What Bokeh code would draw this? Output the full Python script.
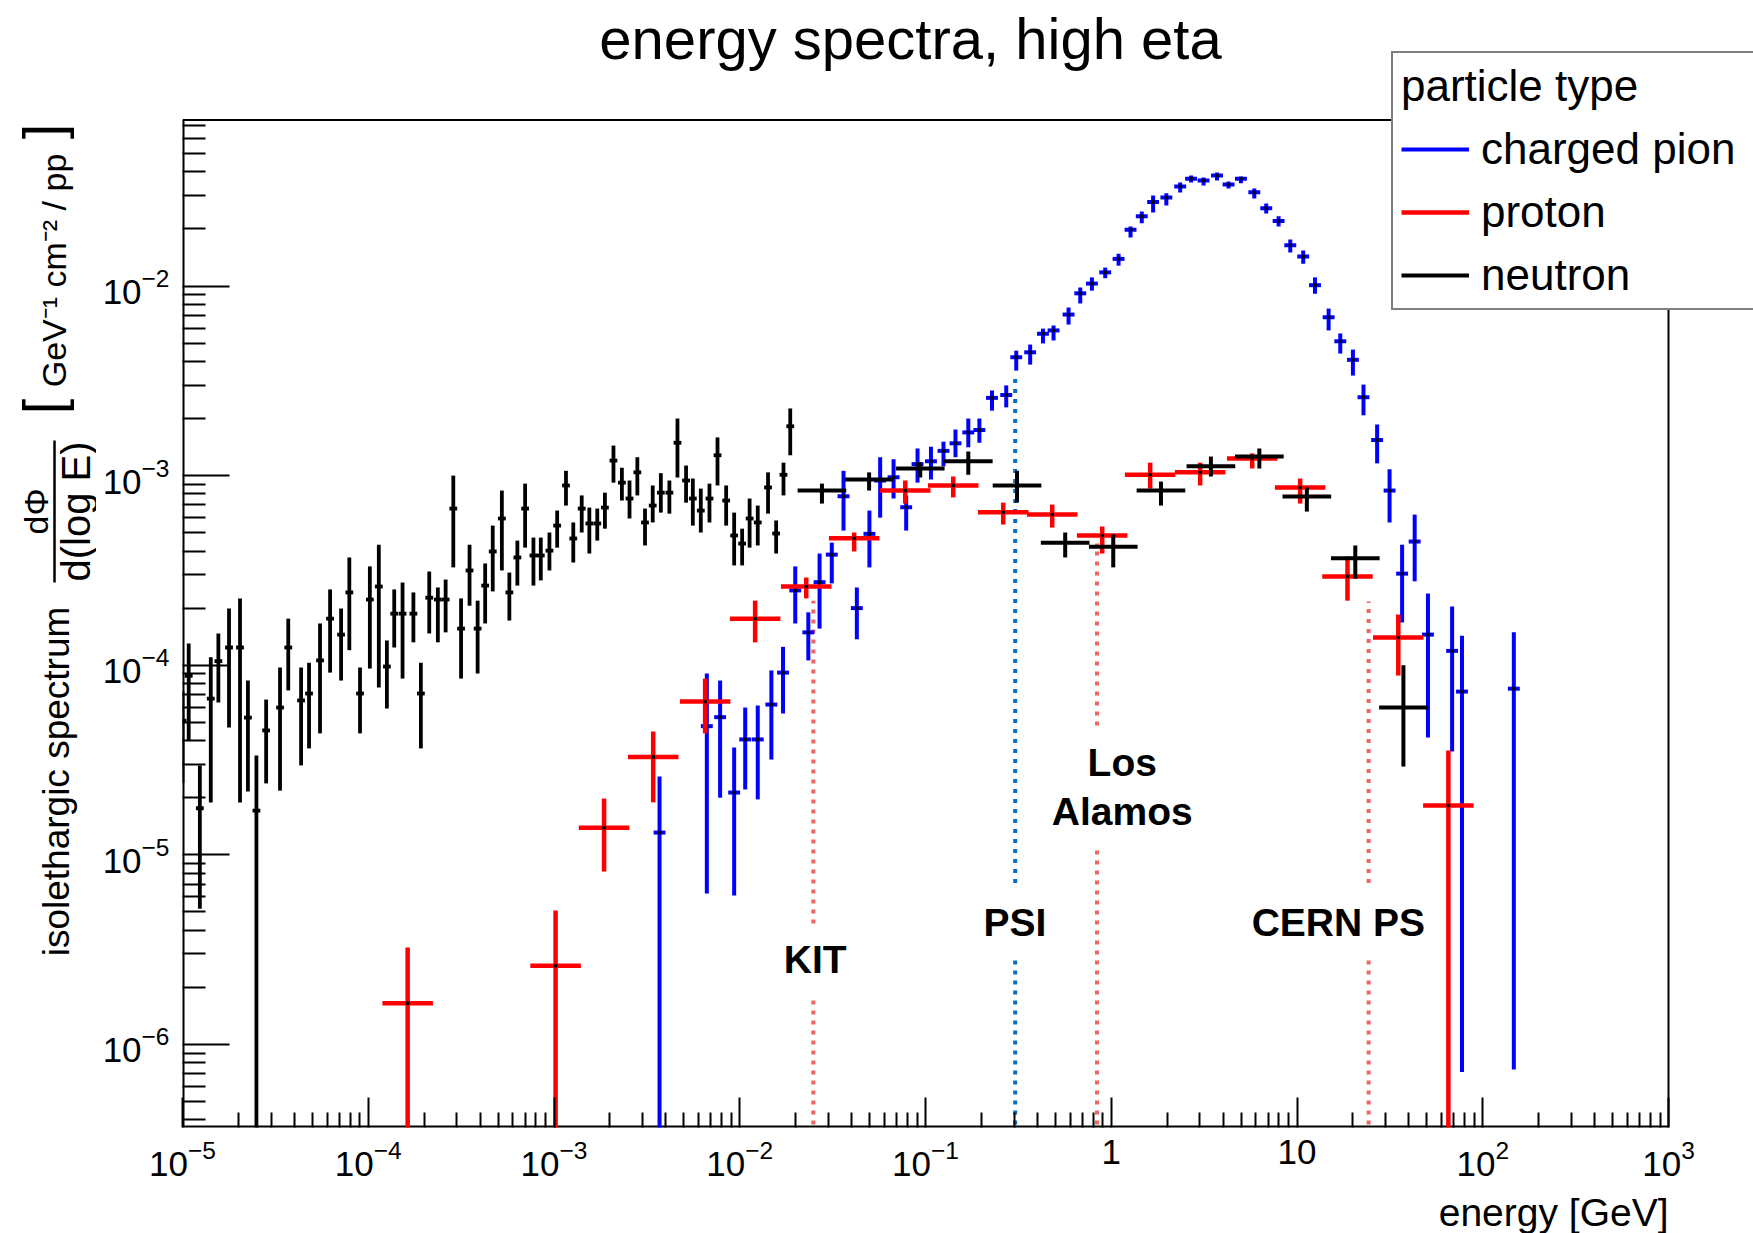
import numpy as np
from bokeh.plotting import figure
from bokeh.layouts import row, column
from bokeh.models import Range1d, FixedTicker, Label, Legend, LegendItem, ColumnDataSource
from bokeh.embed import file_html
from bokeh.resources import INLINE

FONT = "Liberation Sans"

# ---------------- data ----------------
# neutron, fine binning (low energy)
neutron_fine_e = [1.0e-5, 1.08e-5, 1.24e-5, 1.42e-5, 1.56e-5, 1.78e-5, 2.04e-5, 2.25e-5, 2.50e-5, 2.82e-5,
                  3.35e-5, 3.71e-5, 4.35e-5, 4.80e-5, 5.50e-5, 6.23e-5, 7.14e-5, 7.91e-5, 9.03e-5, 1.02e-4,
                  1.14e-4, 1.26e-4, 1.38e-4, 1.53e-4, 1.75e-4, 1.92e-4, 2.13e-4, 2.37e-4, 2.61e-4, 2.87e-4,
                  3.16e-4, 3.51e-4, 3.88e-4, 4.26e-4, 4.68e-4, 5.24e-4, 5.75e-4, 6.35e-4, 6.99e-4, 7.75e-4,
                  8.49e-4, 9.45e-4, 1.04e-3, 1.16e-3, 1.27e-3, 1.41e-3, 1.55e-3, 1.71e-3, 1.88e-3, 2.09e-3,
                  2.32e-3, 2.55e-3, 2.81e-3, 3.09e-3, 3.40e-3, 3.76e-3, 4.18e-3, 4.62e-3, 5.14e-3, 5.59e-3,
                  6.17e-3, 6.87e-3, 7.59e-3, 8.45e-3, 9.33e-3, 1.03e-2, 1.13e-2, 1.25e-2, 1.42e-2, 1.57e-2,
                  1.72e-2, 1.87e-2]
neutron_fine_y = [5.1e-5, 8.8e-5, 1.76e-5, 6.67e-5, 1.05e-4, 1.24e-4, 1.24e-4, 5.29e-5, 1.71e-5, 4.53e-5,
                  5.98e-5, 1.24e-4, 6.52e-5, 7.09e-5, 1.06e-4, 1.76e-4, 1.45e-4, 2.42e-4, 7.09e-5, 2.22e-4,
                  2.60e-4, 9.84e-5, 1.87e-4, 1.87e-4, 1.87e-4, 7.09e-5, 2.27e-4, 2.22e-4, 2.22e-4, 6.70e-4,
                  1.56e-4, 3.16e-4, 1.56e-4, 2.63e-4, 3.98e-4, 5.94e-4, 2.42e-4, 3.70e-4, 6.70e-4, 3.79e-4,
                  3.79e-4, 4.02e-4, 5.45e-4, 8.87e-4, 4.66e-4, 6.70e-4, 5.59e-4, 5.59e-4, 6.78e-4, 1.20e-3,
                  9.18e-4, 7.57e-4, 1.04e-3, 5.66e-4, 6.95e-4, 8.13e-4, 8.13e-4, 1.49e-3, 9.42e-4, 7.57e-4,
                  6.54e-4, 7.57e-4, 1.28e-3, 7.39e-4, 4.83e-4, 4.38e-4, 5.94e-4, 5.66e-4, 8.66e-4, 4.95e-4,
                  1.01e-3, 1.82e-3]
neutron_fine_hi = [7.3e-5, 1.30e-4, 2.96e-5, 1.10e-4, 1.47e-4, 1.99e-4, 2.25e-4, 8.30e-5, 3.34e-5, 6.59e-5,
                   9.72e-5, 1.76e-4, 9.72e-5, 1.03e-4, 1.66e-4, 2.51e-4, 1.99e-4, 3.70e-4, 9.72e-5, 3.32e-4,
                   4.32e-4, 1.35e-4, 2.51e-4, 2.73e-4, 2.42e-4, 1.03e-4, 3.12e-4, 2.57e-4, 2.83e-4, 1.0e-3,
                   2.25e-4, 4.32e-4, 2.19e-4, 3.44e-4, 5.45e-4, 8.34e-4, 3.08e-4, 4.54e-4, 9.07e-4, 4.71e-4,
                   4.71e-4, 5.01e-4, 6.54e-4, 1.06e-3, 5.66e-4, 7.86e-4, 6.78e-4, 6.70e-4, 8.13e-4, 1.44e-3,
                   1.10e-3, 9.42e-4, 1.25e-3, 6.70e-4, 8.87e-4, 1.03e-3, 9.42e-4, 2.0e-3, 1.13e-3, 9.65e-4,
                   8.54e-4, 9.07e-4, 1.59e-3, 8.87e-4, 6.38e-4, 5.25e-4, 7.57e-4, 6.95e-4, 1.04e-3, 5.80e-4,
                   1.17e-3, 2.26e-3]
neutron_fine_lo = [2.4e-5, 4.0e-5, 5.2e-6, 1.89e-5, 6.35e-5, 4.69e-5, 1.89e-5, 2.16e-5, 0.0, 2.38e-5,
                   2.18e-5, 7.36e-5, 2.96e-5, 3.64e-5, 4.37e-5, 9.14e-5, 8.30e-5, 1.20e-4, 4.37e-5, 9.6e-5,
                   7.62e-5, 5.91e-5, 1.24e-4, 8.5e-5, 1.32e-4, 3.64e-5, 1.47e-4, 1.32e-4, 1.49e-4, 3.28e-4,
                   8.5e-5, 2.06e-4, 9.04e-5, 1.66e-4, 2.45e-4, 3.16e-4, 1.72e-4, 2.63e-4, 4.17e-4, 2.63e-4,
                   2.80e-4, 3.16e-4, 4.17e-4, 6.95e-4, 3.48e-4, 5.01e-4, 3.88e-4, 4.54e-4, 5.25e-4, 9.18e-4,
                   7.39e-4, 5.94e-4, 7.86e-4, 4.28e-4, 5.66e-4, 6.38e-4, 6.30e-4, 9.77e-4, 7.20e-4, 5.45e-4,
                   5.01e-4, 5.66e-4, 8.87e-4, 5.45e-4, 3.36e-4, 3.36e-4, 4.17e-4, 4.28e-4, 6.30e-4, 3.88e-4,
                   7.86e-4, 1.28e-3]

# neutron, coarse binning
neutron_e = [0.0277, 0.0497, 0.0937, 0.170, 0.311, 0.565, 1.025, 1.852, 3.44, 6.27, 11.3, 20.6, 37.4]
neutron_y = [8.34e-4, 9.54e-4, 1.09e-3, 1.19e-3, 8.87e-4, 4.43e-4, 4.22e-4, 8.34e-4, 1.12e-3, 1.26e-3,
             7.76e-4, 3.66e-4, 5.98e-5]
neutron_hi = [9.07e-4, 1.04e-3, 1.17e-3, 1.34e-3, 1.06e-3, 5.01e-4, 4.89e-4, 9.30e-4, 1.26e-3, 1.39e-3,
              8.66e-4, 4.28e-4, 1.0e-4]
neutron_lo = [7.12e-4, 8.34e-4, 9.77e-4, 1.01e-3, 7.20e-4, 3.70e-4, 3.28e-4, 6.95e-4, 9.89e-4, 1.09e-3,
              6.46e-4, 2.86e-4, 2.92e-5]

# proton
proton_e = [1.63e-4, 1.02e-3, 1.86e-3, 3.42e-3, 6.51e-3, 1.21e-2, 2.28e-2, 4.13e-2, 7.78e-2, 0.141,
            0.262, 0.481, 0.894, 1.62, 3.01, 5.74, 10.4, 18.7, 35.1, 65.3]
proton_y = [1.65e-6, 2.60e-6, 1.39e-5, 3.28e-5, 6.43e-5, 1.76e-4, 2.60e-4, 4.67e-4, 8.34e-4, 8.87e-4,
            6.41e-4, 6.23e-4, 4.83e-4, 1.01e-3, 1.04e-3, 1.23e-3, 8.66e-4, 2.94e-4, 1.40e-4, 1.82e-5]
proton_hi = [3.24e-6, 5.08e-6, 1.98e-5, 4.47e-5, 8.5e-5, 2.19e-4, 2.90e-4, 5.01e-4, 9.42e-4, 9.89e-4,
             7.20e-4, 7.03e-4, 5.39e-4, 1.17e-3, 1.17e-3, 1.31e-3, 9.65e-4, 3.74e-4, 1.85e-4, 3.55e-5]
proton_lo = [0.0, 0.0, 8.16e-6, 1.89e-5, 4.37e-5, 1.32e-4, 2.25e-4, 3.98e-4, 7.12e-4, 7.67e-4,
             5.52e-4, 5.32e-4, 3.88e-4, 8.54e-4, 8.87e-4, 1.09e-3, 7.12e-4, 2.19e-4, 8.82e-5, 0.0]

# charged pion
pion_e = [3.70e-3, 6.65e-3, 7.84e-3, 9.33e-3, 1.07e-2, 1.25e-2, 1.48e-2, 1.71e-2, 1.99e-2, 2.34e-2,
          2.69e-2, 3.13e-2, 3.62e-2, 4.27e-2, 4.99e-2, 5.70e-2, 6.73e-2, 7.87e-2, 9.06e-2, 0.107,
          0.125, 0.145, 0.170, 0.195, 0.228, 0.272, 0.308, 0.366, 0.429, 0.489,
          0.589, 0.681, 0.787, 0.928, 1.095, 1.27, 1.46, 1.68, 1.98, 2.35,
          2.69, 3.14, 3.71, 4.28, 4.99, 5.89, 6.83, 7.96, 9.20, 10.8,
          12.5, 14.8, 17.1, 20.0, 22.8, 27.0, 31.5, 36.8, 43.0, 50.7,
          68.4, 77.3, 147.0]
pion_y = [1.31e-5, 4.77e-5, 5.32e-5, 2.13e-5, 4.06e-5, 4.06e-5, 6.2e-5, 9.14e-5, 2.48e-4, 1.49e-4,
          2.74e-4, 3.83e-4, 7.78e-4, 2.0e-4, 4.93e-4, 9.42e-4, 9.8e-4, 6.81e-4, 1.15e-3, 1.19e-3,
          1.35e-3, 1.48e-3, 1.69e-3, 1.74e-3, 2.57e-3, 2.66e-3, 4.21e-3, 4.47e-3, 5.6e-3, 5.83e-3,
          7.07e-3, 9.15e-3, 1.03e-2, 1.18e-2, 1.39e-2, 1.98e-2, 2.33e-2, 2.77e-2, 2.93e-2, 3.35e-2,
          3.68e-2, 3.6e-2, 3.83e-2, 3.43e-2, 3.68e-2, 3.12e-2, 2.57e-2, 2.20e-2, 1.64e-2, 1.43e-2,
          1.01e-2, 6.84e-3, 5.11e-3, 4.08e-3, 2.59e-3, 1.54e-3, 8.34e-4, 3.04e-4, 4.49e-4, 1.45e-4,
          1.19e-4, 7.26e-5, 7.52e-5]
pion_hi = [2.59e-5, 9.04e-5, 8.3e-5, 3.68e-5, 5.98e-5, 6.13e-5, 9.38e-5, 1.25e-4, 3.32e-4, 1.90e-4,
           3.88e-4, 4.43e-4, 1.06e-3, 2.57e-4, 6.54e-4, 1.25e-3, 1.22e-3, 7.86e-4, 1.39e-3, 1.42e-3,
           1.51e-3, 1.75e-3, 2.0e-3, 2.0e-3, 2.81e-3, 2.99e-3, 4.56e-3, 4.91e-3, 5.96e-3, 6.19e-3,
           7.7e-3, 9.82e-3, 1.11e-2, 1.25e-2, 1.48e-2, 2.06e-2, 2.47e-2, 3.0e-2, 3.08e-2, 3.52e-2,
           3.83e-2, 3.73e-2, 3.97e-2, 3.56e-2, 3.78e-2, 3.27e-2, 2.72e-2, 2.33e-2, 1.76e-2, 1.54e-2,
           1.11e-2, 7.6e-3, 5.62e-3, 4.62e-3, 3.02e-3, 1.86e-3, 1.08e-3, 4.32e-4, 6.23e-4, 2.39e-4,
           2.04e-4, 1.43e-4, 1.49e-4]
pion_lo = [0.0, 6.25e-6, 2.0e-5, 6.1e-6, 2.21e-5, 1.96e-5, 3.18e-5, 5.56e-5, 1.66e-4, 1.06e-4,
           1.56e-4, 2.70e-4, 5.13e-4, 1.37e-4, 3.28e-4, 6.0e-4, 7.57e-4, 5.13e-4, 9.18e-4, 9.54e-4,
           1.12e-3, 1.25e-3, 1.41e-3, 1.49e-3, 2.20e-3, 2.29e-3, 3.58e-3, 3.85e-3, 4.98e-3, 5.16e-3,
           6.26e-3, 8.09e-3, 9.45e-3, 1.10e-2, 1.28e-2, 1.80e-2, 2.14e-2, 2.44e-2, 2.66e-2, 3.11e-2,
           3.52e-2, 3.39e-2, 3.6e-2, 3.27e-2, 3.48e-2, 2.89e-2, 2.41e-2, 2.06e-2, 1.50e-2, 1.31e-2,
           9.1e-3, 5.83e-3, 4.40e-3, 3.37e-3, 2.08e-3, 1.16e-3, 5.66e-4, 1.68e-4, 2.77e-4, 4.16e-5,
           3.51e-5, 7.15e-7, 7.37e-7]

# facility markers (beam energies in GeV)
facility_e = [0.0249, 0.304, 0.838, 24.3]
facility_top = [2.19e-4, 3.3e-3, 4.38e-4, 2.17e-4]
facility_gap_lo = [1.80e-6, 2.95e-6, 1.13e-5, 2.95e-6]
facility_gap_hi = [4.34e-6, 7.09e-6, 4.81e-5, 7.09e-6]
facility_color = ["#f26464", "#0b6cc4", "#f26464", "#f26464"]
facility_text = ["KIT", "PSI", "Los", "Alamos", "CERN PS"]
facility_text_e = [0.0255, 0.303, 1.146, 1.146, 16.7]
facility_text_y = [2.81e-6, 4.41e-6, 3.07e-5, 1.69e-5, 4.41e-6]

x_major = [1e-5, 1e-4, 1e-3, 1e-2, 1e-1, 1.0, 10.0, 100.0, 1000.0]
y_major = [1e-6, 1e-5, 1e-4, 1e-3, 1e-2]

# ---------------- geometry (page pixels) ----------------
LEFT_W = 96            # width of the y-title strip
MAIN_H = 1190          # height of the main canvas
BOTTOM_H = 1233 - MAIN_H
FR_L, FR_R, FR_B = 182, 1668, 1127   # visible plot box (page px)
BOX_TOP_PX = 119.4
X_DEC = (FR_R - FR_L) / 8.0           # px per decade in x
Y_DEC = 189.6                          # px per decade in y
Y_REF_PX = 285.5                       # page y of 1e-2

X_MIN, X_MAX = 1e-5, 1e3
X_VIEW_END = 10 ** (-5 + (1753 - FR_L) / X_DEC)
Y_BOT = 10 ** (-2 - (FR_B - Y_REF_PX) / Y_DEC)
Y_TOP = 10 ** (-2 + (Y_REF_PX - BOX_TOP_PX) / Y_DEC)
Y_VIEW_TOP = 10 ** (-2 + Y_REF_PX / Y_DEC)

# ---------------- main figure ----------------
p = figure(width=1753 - LEFT_W, height=MAIN_H, x_axis_type="log", y_axis_type="log",
           x_range=Range1d(X_MIN, X_VIEW_END), y_range=Range1d(Y_BOT, Y_VIEW_TOP),
           output_backend="svg", toolbar_location=None,
           min_border_left=FR_L - LEFT_W, min_border_right=0, min_border_top=0,
           min_border_bottom=MAIN_H - FR_B)
p.title.visible = False
p.xgrid.visible = False
p.ygrid.visible = False
p.outline_line_color = None
p.background_fill_color = "white"
p.border_fill_color = "white"

x_minor = [m * 10.0 ** k for k in range(-5, 3) for m in range(2, 10)]
y_minor = [m * 10.0 ** k for k in range(-7, -1) for m in range(2, 10)
           if Y_BOT <= m * 10.0 ** k <= Y_TOP]
p.xaxis.ticker = FixedTicker(ticks=x_major, minor_ticks=x_minor)
p.yaxis.ticker = FixedTicker(ticks=y_major, minor_ticks=y_minor)
p.xaxis.major_label_overrides = {1: "1", 10: "10"}

for ax in (p.xaxis[0], p.yaxis[0]):
    ax.axis_line_color = None
    ax.major_tick_line_color = "black"
    ax.major_tick_line_width = 2
    ax.minor_tick_line_color = "black"
    ax.minor_tick_line_width = 2
    ax.major_tick_out = 0
    ax.minor_tick_out = 0
    ax.major_label_text_font = FONT
    ax.major_label_text_font_size = "35px"
    ax.major_label_text_color = "black"
p.xaxis.major_tick_in = 30
p.xaxis.minor_tick_in = 15
p.yaxis.major_tick_in = 47
p.yaxis.minor_tick_in = 23
p.xaxis.major_label_standoff = 12
p.yaxis.major_label_standoff = 13

# plot box (left/bottom edges sit on the frame edge, so they are drawn wider)
p.segment(x0=[X_MIN, X_MIN, X_MIN, X_MAX], y0=[Y_BOT, Y_BOT, Y_TOP, Y_BOT],
          x1=[X_MIN, X_MAX, X_MAX, X_MAX], y1=[Y_TOP, Y_BOT, Y_TOP, Y_TOP],
          line_color="black", line_width=[4, 4, 2, 2])

# facility lines
fac_src = ColumnDataSource(dict(e=facility_e, top=facility_top, glo=facility_gap_lo,
                                ghi=facility_gap_hi, c=facility_color,
                                bot=[Y_BOT * 0.5] * len(facility_e)))
p.segment(x0="e", y0="bot", x1="e", y1="glo", source=fac_src, line_color="c",
          line_width=4, line_dash="4 6")
p.segment(x0="e", y0="ghi", x1="e", y1="top", source=fac_src, line_color="c",
          line_width=4, line_dash="4 6")


def draw_series(e, y, lo, hi, half_dec, color, width, dot=False):
    e = np.asarray(e, dtype=float)
    y = np.asarray(y, dtype=float)
    lo = np.maximum(np.asarray(lo, dtype=float), Y_BOT * 0.5)
    hi = np.asarray(hi, dtype=float)
    f = 10 ** half_dec
    src = ColumnDataSource(dict(e=e, y=y, lo=lo, hi=hi, el=e / f, er=e * f))
    rv = p.segment(x0="e", y0="lo", x1="e", y1="hi", source=src,
                   line_color=color, line_width=width)
    p.segment(x0="el", y0="y", x1="er", y1="y", source=src,
              line_color=color, line_width=width)
    if dot:
        p.scatter("e", "y", source=src, size=2.5, color="black", marker="square")
    return rv


r_pion = draw_series(pion_e, pion_y, pion_lo, pion_hi, 0.032, "#0000ff", 4, dot=True)
r_prot = draw_series(proton_e, proton_y, proton_lo, proton_hi, 0.136, "#ff0000", 4.5, dot=True)
r_neut = draw_series(neutron_e, neutron_y, neutron_lo, neutron_hi, 0.131, "black", 4)
draw_series(neutron_fine_e, neutron_fine_y, neutron_fine_lo, neutron_fine_hi, 0.021, "black", 3.8)

for t, xe, ye in zip(facility_text, facility_text_e, facility_text_y):
    p.add_layout(Label(x=xe, y=ye, text=t, text_font=FONT, text_font_size="39px",
                       text_font_style="bold", text_align="center",
                       text_baseline="middle", text_color="black"))

# main title (inside the extended frame)
p.add_layout(Label(x=910 - FR_L, y=FR_B - 38, x_units="screen", y_units="screen",
                   text="energy spectra, high eta", text_font=FONT, text_font_size="58px",
                   text_align="center", text_baseline="middle", text_color="black"))

legend = Legend(items=[LegendItem(label="charged pion", renderers=[r_pion]),
                       LegendItem(label="proton", renderers=[r_prot]),
                       LegendItem(label="neutron", renderers=[r_neut])],
                location=(1391 - FR_L, FR_B - 310), title="particle type",
                title_text_font=FONT, title_text_font_size="44px", title_text_font_style="normal",
                title_text_color="black",
                label_text_font=FONT, label_text_font_size="44px", label_text_color="black",
                glyph_width=68, glyph_height=50, label_height=50, label_width=330,
                label_standoff=12, spacing=13, padding=8, margin=0, title_standoff=13,
                border_line_color="black", border_line_width=2,
                background_fill_color="white", background_fill_alpha=1.0)
p.add_layout(legend)

# ---------------- y-axis title strip (frame spans page y 0..FR_B) ----------------
ylab = figure(width=LEFT_W, height=MAIN_H, x_range=Range1d(0, LEFT_W), y_range=Range1d(0, FR_B),
              x_axis_location=None, y_axis_location=None, toolbar_location=None,
              output_backend="svg", min_border_left=0, min_border_right=0, min_border_top=0,
              min_border_bottom=MAIN_H - FR_B)
ylab.title.visible = False
ylab.outline_line_color = None
ylab.xgrid.visible = False
ylab.ygrid.visible = False


def ytext(text, cx, cy, size, style="normal"):
    ylab.add_layout(Label(x=cx, y=FR_B - cy, x_units="screen", y_units="screen", text=text,
                          text_font=FONT, text_font_size=size, text_font_style=style,
                          text_align="center", text_baseline="middle", angle=np.pi / 2,
                          text_color="black"))


ytext("isolethargic spectrum", 56, 781, "37px")
ytext("dΦ", 35, 511, "34px")
ytext("d(log E)", 75, 511, "40px")
ytext("GeV⁻¹ cm⁻² / pp", 53, 270, "34px")
ytext("[", 42, 406, "56px")
ytext("]", 42, 131, "56px")
ylab.segment(x0=[54], y0=[FR_B - 440], x1=[54], y1=[FR_B - 582],
             line_color="black", line_width=2.5)

# ---------------- x-axis title strip ----------------
xlab = figure(width=1753, height=BOTTOM_H, x_range=Range1d(0, 1753), y_range=Range1d(0, BOTTOM_H),
              x_axis_location=None, y_axis_location=None, toolbar_location=None,
              output_backend="svg", min_border=0)
xlab.title.visible = False
xlab.outline_line_color = None
xlab.xgrid.visible = False
xlab.ygrid.visible = False
xlab.add_layout(Label(x=FR_R, y=1233 - 1212, x_units="screen", y_units="screen",
                      text="energy [GeV]", text_font=FONT, text_font_size="39px",
                      text_align="right", text_baseline="middle", text_color="black"))

layout = column(row(ylab, p), xlab)
open("out.html", "w").write(file_html(layout, INLINE))
